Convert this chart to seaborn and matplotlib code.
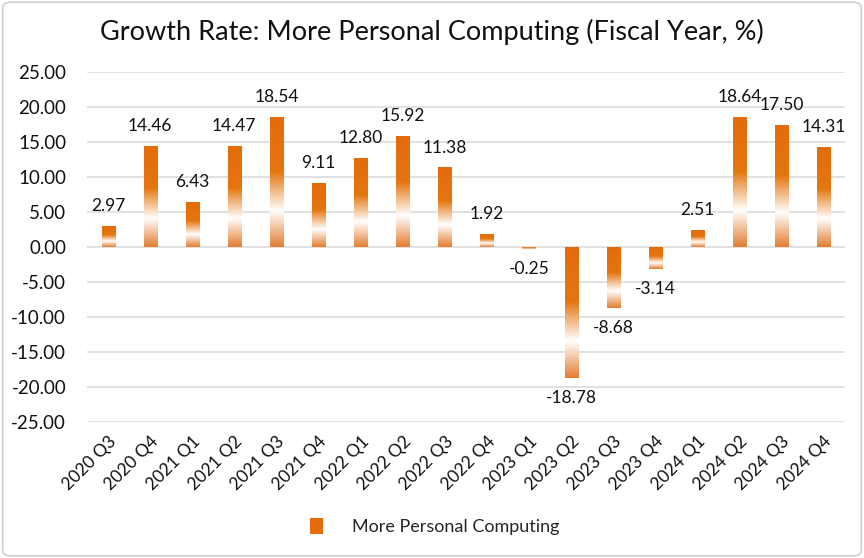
import numpy as np
import pandas as pd
import matplotlib
matplotlib.use("Agg")
import matplotlib.pyplot as plt
import seaborn as sns
from matplotlib.colors import LinearSegmentedColormap
from matplotlib.patches import FancyBboxPatch, Patch

quarters = ["2020 Q3", "2020 Q4", "2021 Q1", "2021 Q2", "2021 Q3", "2021 Q4",
            "2022 Q1", "2022 Q2", "2022 Q3", "2022 Q4", "2023 Q1", "2023 Q2",
            "2023 Q3", "2023 Q4", "2024 Q1", "2024 Q2", "2024 Q3", "2024 Q4"]
growth = [2.97, 14.46, 6.43, 14.47, 18.54, 9.11, 12.80, 15.92, 11.38, 1.92,
          -0.25, -18.78, -8.68, -3.14, 2.51, 18.64, 17.50, 14.31]
series_name = "More Personal Computing"
title = "Growth Rate: More Personal Computing (Fiscal Year, %)"
yticks = [25, 20, 15, 10, 5, 0, -5, -10, -15, -20, -25]

df = pd.DataFrame({"Quarter": quarters, "Growth": growth})

sns.set_theme(style="white")
plt.rcParams["font.family"] = ["Lato", "DejaVu Sans"]

fig = plt.figure(figsize=(8.64, 5.58), dpi=100)
ax = fig.add_axes([0.1007, 0.2437, 0.877, 0.627])

orange = "#E46C0A"
sns.barplot(data=df, x="Quarter", y="Growth", color=orange, width=0.31,
            ax=ax, saturation=1, zorder=3)

ax.set_ylim(-25, 25)
ax.set_yticks(yticks)
ax.set_yticklabels([f"{v:.2f}" for v in yticks], fontsize=13.5, color="#111111")
ax.grid(axis="y", color="#D9D9D9", linewidth=1.1, zorder=0)
for s in ax.spines.values():
    s.set_visible(False)
ax.tick_params(axis="y", length=0, pad=15)
ax.tick_params(axis="x", length=0, pad=8)
ax.set_xlabel("")
ax.set_ylabel("")
plt.setp(ax.get_xticklabels(), rotation=45, ha="right", rotation_mode="anchor",
         fontsize=12.5, color="#111111")

# gradient fill for bars
cmap = LinearSegmentedColormap.from_list(
    "grad", [(0.0, "#E36C09"), (0.42, "#E5760F"), (0.72, "#FFFFFF"),
             (1.0, "#E47D30")])
grad = np.linspace(0, 1, 256).reshape(-1, 1)
for p in ax.patches:
    x0, y0 = p.get_x(), p.get_y()
    w, h = p.get_width(), p.get_height()
    if h == 0:
        continue
    ylo, yhi = min(y0, y0 + h), max(y0, y0 + h)
    im = ax.imshow(grad, cmap=cmap, aspect="auto", origin="upper",
                   extent=[x0, x0 + w, ylo, yhi], zorder=4,
                   interpolation="bicubic")
    im.set_clip_path(p)
    p.set_facecolor("none")
    p.set_edgecolor("none")
ax.set_xlim(-0.5, len(quarters) - 0.5)
ax.set_ylim(-25, 25)

# value labels
for i, v in enumerate(growth):
    if v >= 0:
        ax.text(i, v + 1.7, f"{v:.2f}", ha="center", va="bottom", fontsize=12.5,
                color="#111111", zorder=5)
    else:
        ax.text(i, v - 1.7, f"{v:.2f}", ha="center", va="top", fontsize=12.5,
                color="#111111", zorder=5)

fig.text(0.5, 0.943, title, ha="center", va="center", fontsize=19.5, color="#111111")

leg = fig.legend(handles=[Patch(facecolor=orange, edgecolor="none", label=series_name)],
                 loc="center", bbox_to_anchor=(0.503, 0.056), frameon=False,
                 fontsize=13, handlelength=0.7, handleheight=1.0, handletextpad=1.6)

border = FancyBboxPatch((0.003, 0.004), 0.994, 0.992, boxstyle="round,pad=0,rounding_size=0.01",
                        transform=fig.transFigure, facecolor="none",
                        edgecolor="#D0D0D0", linewidth=1.2)
fig.patches.append(border)

fig.savefig("out.png", dpi=100)
